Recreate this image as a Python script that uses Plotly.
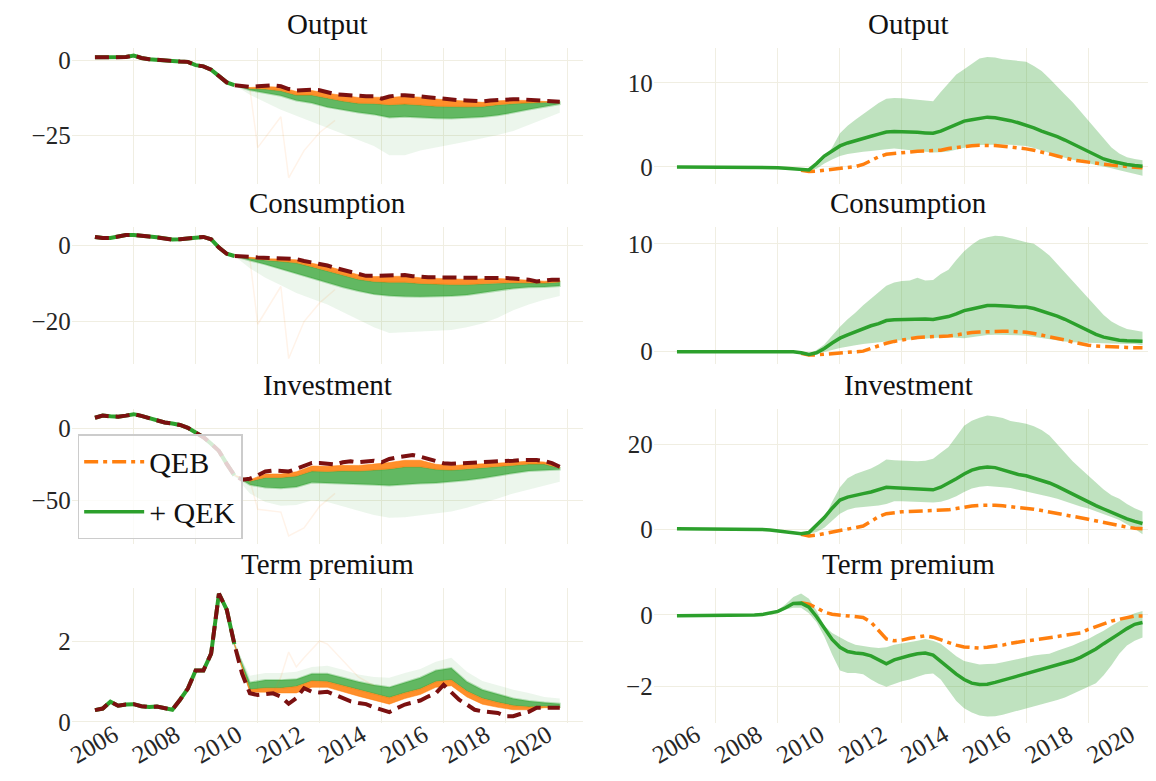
import pandas as pd
import plotly.graph_objects as go

# ---------------- data ----------------
quarters = pd.date_range("2004-10-01", periods=61, freq="QS")          # 2004Q4 .. 2019Q4
band_halfyears = pd.date_range("2009-04-01", periods=22, freq="6MS")   # left-panel spaghetti envelopes
tick_years = ["2006", "2008", "2010", "2012", "2014", "2016", "2018", "2020"]
panel_titles = ["Output", "Consumption", "Investment", "Term premium"]

# ----- left column: actual data (dashed) -----
output_actual = [0.9, 0.85, 0.85, 1.0, 1.0, 1.5, 0.7, 0.3, 0.2, -0.1, -0.3, -0.5, -0.6,
                 -1.7, -2.1, -3.2, -5.2, -7.4, -8.3, -8.7, -8.9, -8.7, -8.5, -8.4, -8.7,
                 -9.6, -10.1, -9.9, -9.8, -10.0, -10.7, -11.3, -11.5, -11.7, -12.1, -12.0, -12.0,
                 -12.8, -12.1, -11.7, -11.7, -11.7, -12.0, -12.3, -12.6, -12.8, -13.0, -13.3, -13.4,
                 -13.6, -13.7, -13.4, -13.2, -13.0, -13.0, -13.0, -13.2, -13.3, -13.5, -13.6, -13.8]
cons_actual = [2.2, 1.9, 1.9, 2.4, 2.7, 2.7, 2.6, 2.3, 2.1, 1.8, 1.5, 1.6, 1.9,
               2.0, 2.2, 1.6, -0.6, -2.2, -2.8, -2.8, -3.0, -3.2, -3.3, -3.4, -3.4,
               -3.4, -3.6, -4.1, -4.5, -4.8, -5.3, -5.9, -6.4, -6.9, -7.5, -8.0, -8.0,
               -8.0, -8.0, -7.9, -7.8, -8.1, -8.3, -8.4, -8.4, -8.4, -8.5, -8.5, -8.6,
               -8.6, -8.5, -8.4, -8.4, -8.6, -8.7, -8.8, -9.0, -9.5, -9.2, -9.0, -9.0]
inv_actual = [7.5, 9.0, 8.5, 8.3, 9.0, 10.0, 8.8, 7.3, 5.5, 4.2, 3.5, 2.5, 0.5,
              -2.5, -6.0, -10.5, -15.5, -24.5, -32.5, -35.5, -34.8, -32.5, -29.8, -29.1, -29.8,
              -29.8, -28.0, -25.7, -23.9, -23.9, -24.5, -25.0, -23.4, -22.7, -23.4, -23.0, -22.3,
              -23.4, -21.1, -20.0, -19.5, -18.4, -19.5, -21.1, -23.0, -24.1, -24.5, -24.1, -23.6,
              -23.4, -23.2, -23.0, -22.7, -22.7, -22.3, -21.8, -21.6, -21.8, -22.5, -24.0, -26.5]
tp_actual = [0.29, 0.33, 0.50, 0.40, 0.43, 0.44, 0.39, 0.37, 0.38, 0.33, 0.30, 0.55, 0.83,
             1.28, 1.28, 1.70, 3.20, 2.80, 1.94, 1.20, 0.71, 0.67, 0.69, 0.71, 0.63,
             0.45, 0.59, 0.84, 0.75, 0.73, 0.75, 0.67, 0.59, 0.51, 0.47, 0.44, 0.36,
             0.30, 0.24, 0.34, 0.43, 0.48, 0.53, 0.63, 0.71, 0.92, 0.75, 0.55, 0.43,
             0.30, 0.26, 0.24, 0.22, 0.14, 0.14, 0.20, 0.25, 0.35, 0.35, 0.34, 0.35]

# ----- left column: simulated-path envelopes (half-yearly, from 2009Q2) -----
output_qeb_near = [-8.3, -9.1, -8.8, -9.0, -10.4, -10.1, -11.0, -11.8, -12.4, -12.3, -12.4,
                   -12.0, -12.3, -12.9, -13.3, -13.7, -14.0, -13.5, -13.3, -13.4, -13.6, -13.8]
output_qeb_far = [-8.3, -9.4, -9.6, -10.2, -11.6, -11.6, -12.6, -13.6, -14.3, -14.4, -14.8,
                  -14.6, -14.9, -15.3, -15.4, -15.5, -15.4, -14.8, -14.4, -14.1, -14.0, -14.0]
output_qek_core = [-8.3, -10.0, -10.8, -11.8, -13.4, -14.2, -15.6, -16.6, -17.4, -18.0, -19.0,
                   -18.8, -19.0, -19.3, -19.4, -19.2, -18.9, -18.3, -17.4, -16.4, -15.4, -14.6]
output_qek_tail = [-8.3, -11.5, -14.0, -16.5, -18.5, -20.5, -22.6, -24.5, -26.5, -28.5, -31.5,
                   -31.5, -30.0, -29.0, -28.0, -27.0, -26.0, -24.8, -23.5, -21.5, -19.5, -17.5]

cons_qeb_near = [-2.8, -3.1, -3.5, -3.6, -3.8, -4.7, -5.5, -6.6, -7.7, -8.2, -8.2,
                 -8.1, -8.5, -8.7, -8.8, -8.9, -8.8, -8.7, -8.9, -9.2, -9.4, -9.2]
cons_qeb_far = [-2.8, -3.4, -3.9, -4.2, -4.6, -5.6, -6.6, -7.8, -8.9, -9.5, -9.7,
                -9.7, -10.0, -10.2, -10.3, -10.3, -10.1, -9.9, -9.8, -9.8, -9.9, -9.6]
cons_qek_core = [-2.8, -4.0, -5.0, -6.0, -7.2, -8.4, -9.8, -11.0, -12.0, -12.8, -13.2,
                 -13.4, -13.5, -13.4, -13.3, -13.0, -12.5, -11.9, -11.3, -11.0, -10.9, -10.7]
cons_qek_tail = [-2.8, -6.0, -8.5, -10.5, -12.5, -14.0, -15.5, -17.5, -19.5, -21.5, -23.0,
                 -22.8, -22.6, -22.4, -22.2, -21.5, -20.5, -19.0, -17.0, -15.5, -14.3, -13.3]

inv_qeb_near = [-32.5, -35.5, -31.5, -31.5, -30.0, -26.0, -26.2, -25.5, -25.6, -24.6, -23.6,
                -22.0, -22.0, -24.8, -25.8, -25.0, -24.6, -24.0, -23.4, -22.6, -23.2, -26.7]
inv_qeb_far = [-32.5, -36.5, -34.0, -34.0, -33.0, -29.5, -29.8, -29.3, -29.5, -28.8, -28.0,
               -26.5, -26.5, -28.3, -28.8, -28.0, -27.2, -26.4, -25.5, -24.6, -24.6, -27.3]
inv_qek_core = [-32.5, -39.0, -41.0, -41.5, -40.5, -37.5, -37.5, -38.0, -38.5, -39.0, -39.5,
                -38.8, -38.2, -37.8, -37.0, -35.8, -34.5, -32.8, -31.0, -29.5, -28.8, -28.5]
inv_qek_tail = [-32.5, -45.0, -51.0, -53.5, -53.0, -50.0, -51.0, -54.0, -57.0, -60.0, -62.0,
                -61.5, -60.5, -59.0, -57.5, -55.0, -52.0, -48.5, -45.0, -42.0, -39.5, -37.0]

tp_qeb_near = [1.94, 0.74, 0.74, 0.72, 0.72, 0.86, 0.86, 0.74, 0.64, 0.54, 0.44,
               0.58, 0.68, 0.86, 0.90, 0.62, 0.44, 0.36, 0.30, 0.30, 0.35, 0.35]
tp_qeb_far = [1.94, 0.80, 0.84, 0.84, 0.88, 1.02, 1.00, 0.90, 0.80, 0.70, 0.60,
              0.72, 0.82, 1.00, 1.04, 0.76, 0.58, 0.48, 0.40, 0.37, 0.38, 0.37]
tp_qek_core = [1.94, 0.98, 1.04, 1.04, 1.06, 1.20, 1.20, 1.10, 1.00, 0.92, 0.86,
               0.98, 1.10, 1.28, 1.34, 1.00, 0.80, 0.68, 0.58, 0.52, 0.48, 0.45]
tp_qek_tail = [1.94, 1.15, 1.22, 1.22, 1.25, 1.37, 1.40, 1.30, 1.18, 1.12, 1.10,
               1.22, 1.32, 1.50, 1.60, 1.25, 1.02, 0.90, 0.80, 0.72, 0.62, 0.58]

# faint outlier QEB paths
outlier_dates = ["2009-10-01", "2010-01-01", "2010-10-01", "2011-01-01", "2011-07-01", "2012-01-01", "2012-07-01"]
output_outlier = [-9.5, -29.0, -18.8, -39.0, -30.0, -24.0, -20.0]
cons_outlier = [-3.5, -20.7, -10.8, -29.7, -20.0, -15.1, -11.6]
inv_outlier = [-36.0, -56.0, -58.0, -74.5, -69.0, -54.0, -45.0]
tp_outlier_dates = ["2010-07-01", "2010-10-01", "2011-01-01", "2011-04-01", "2011-07-01",
                    "2012-01-01", "2012-04-01", "2012-10-01", "2013-04-01", "2013-10-01"]
tp_outlier = [0.71, 1.12, 1.74, 1.37, 1.6, 2.02, 1.94, 1.53, 1.12, 0.9]

# ----- right column: differences (QEB dash-dot from 2008Q4, QEK median + band) -----
output_qek = [0.0, 0.0, 0.0, 0.0, 0.0, 0.0, 0.0, 0.0, -0.02, -0.02, -0.03, -0.05, -0.05,
              -0.08, -0.15, -0.25, -0.35, -0.35, 0.4, 1.3, 1.9, 2.5, 2.85, 3.15, 3.4,
              3.65, 3.9, 4.15, 4.2, 4.2, 4.18, 4.12, 4.05, 4.0, 4.25, 4.65, 5.0,
              5.45, 5.6, 5.8, 5.92, 5.85, 5.72, 5.5, 5.25, 5.0, 4.65, 4.27, 3.95,
              3.6, 3.2, 2.75, 2.25, 1.75, 1.3, 0.95, 0.68, 0.45, 0.3, 0.18, 0.08]
output_qeb = [-0.4, -0.55, -0.5, -0.38, -0.25, -0.1, 0.0, 0.05, 0.3, 0.8, 1.2, 1.5, 1.62, 1.72,
              1.8, 1.88, 1.9, 1.9, 2.0, 2.2, 2.32, 2.42, 2.52, 2.57, 2.6, 2.55, 2.47, 2.38,
              2.28, 2.15, 1.98, 1.79, 1.55, 1.3, 1.05, 0.85, 0.7, 0.55, 0.42, 0.33, 0.22,
              0.12, 0.02, -0.05, -0.1]
output_hi = [-0.35, 0.1, 1.0, 2.3, 4.0, 4.9, 5.6, 6.3, 7.0, 7.6, 8.1, 8.2, 8.15, 8.05, 7.95,
             7.9, 7.8, 8.9, 10.0, 11.0, 11.6, 12.3, 12.9, 13.05, 13.0, 12.8, 12.7, 12.6, 12.5,
             12.0, 11.4, 10.5, 9.5, 8.6, 7.7, 6.6, 5.5, 4.5, 3.3, 2.3, 1.6, 1.15, 0.95, 0.8]
output_lo = [-0.45, -0.2, 0.4, 0.9, 1.3, 1.55, 1.7, 1.8, 1.9, 1.97, 2.1, 2.2, 2.1, 2.0, 1.9,
             1.8, 1.72, 1.75, 1.85, 2.0, 2.25, 2.48, 2.6, 2.67, 2.67, 2.67, 2.65, 2.58, 2.48,
             2.25, 2.0, 1.7, 1.4, 1.1, 0.85, 0.6, 0.4, 0.25, 0.05, -0.15, -0.4, -0.6, -0.85, -1.05]

cons_qek = [0.0, 0.0, 0.0, 0.0, 0.0, 0.0, 0.0, 0.0, 0.0, 0.0, 0.0, 0.0, 0.0,
            0.0, 0.0, 0.0, -0.1, -0.25, -0.1, 0.3, 0.8, 1.25, 1.55, 1.85, 2.1,
            2.4, 2.6, 2.88, 2.95, 2.98, 3.0, 3.04, 3.02, 2.98, 3.1, 3.25, 3.5,
            3.8, 3.95, 4.15, 4.28, 4.28, 4.27, 4.2, 4.13, 4.13, 4.0, 3.78, 3.55,
            3.3, 3.0, 2.65, 2.25, 1.9, 1.6, 1.35, 1.18, 1.05, 1.0, 0.97, 0.96]
cons_qeb = [-0.15, -0.3, -0.3, -0.25, -0.18, -0.1, -0.08, -0.08, 0.05, 0.3, 0.55, 0.78, 0.95,
            1.1, 1.25, 1.32, 1.36, 1.38, 1.41, 1.45, 1.55, 1.7, 1.78, 1.83, 1.87, 1.88, 1.88,
            1.88, 1.87, 1.8, 1.68, 1.55, 1.4, 1.27, 1.08, 0.88, 0.72, 0.6, 0.52, 0.47, 0.43,
            0.41, 0.39, 0.37, 0.36]
cons_hi = [-0.25, 0.15, 0.66, 1.5, 2.3, 3.0, 3.6, 4.3, 4.9, 5.5, 6.1, 6.4, 6.55, 6.6, 6.85,
           6.6, 6.65, 7.2, 7.6, 8.5, 9.3, 9.9, 10.4, 10.6, 10.75, 10.7, 10.5, 10.3, 10.15,
           10.0, 9.5, 8.9, 8.1, 7.4, 6.6, 5.8, 5.0, 4.2, 3.4, 2.8, 2.4, 2.1, 1.95, 1.85]
cons_lo = [-0.3, -0.2, -0.05, 0.15, 0.35, 0.5, 0.6, 0.7, 0.8, 0.88, 0.95, 1.02, 1.1, 1.15,
           1.2, 1.25, 1.28, 1.32, 1.35, 1.3, 1.25, 1.35, 1.45, 1.55, 1.57, 1.57, 1.55, 1.52,
           1.48, 1.4, 1.3, 1.2, 1.05, 0.95, 0.87, 0.82, 0.8, 0.8, 0.78, 0.76, 0.74, 0.72, 0.7, 0.6]

inv_qek = [0.2, 0.2, 0.15, 0.1, 0.1, 0.05, 0.0, 0.0, 0.0, 0.0, 0.0, 0.0, -0.1,
           -0.3, -0.6, -0.9, -1.0, -0.7, 1.0, 2.8, 5.0, 6.9, 7.6, 8.1, 8.4,
           8.8, 9.3, 9.9, 9.8, 9.7, 9.5, 9.4, 9.3, 9.3, 9.9, 10.8, 11.9,
           13.0, 13.9, 14.4, 14.66, 14.5, 14.0, 13.3, 12.9, 12.6, 12.1, 11.6, 10.9,
           10.1, 9.2, 8.3, 7.3, 6.4, 5.6, 4.8, 4.0, 3.2, 2.5, 1.9, 1.4]
inv_qeb = [-1.1, -1.5, -1.3, -0.95, -0.5, -0.15, 0.15, 0.45, 0.8, 1.9, 3.0, 3.7, 4.0, 4.15,
           4.22, 4.28, 4.35, 4.42, 4.5, 4.6, 4.9, 5.3, 5.5, 5.65, 5.75, 5.7, 5.55, 5.4, 5.2,
           5.0, 4.75, 4.45, 4.15, 3.8, 3.45, 3.1, 2.75, 2.4, 2.0, 1.6, 1.2, 0.85, 0.55, 0.3, 0.15]
inv_hi = [-0.9, 0.5, 2.6, 6.5, 9.9, 12.0, 13.0, 13.7, 14.3, 15.2, 16.4, 16.2, 16.1, 16.0,
          16.0, 16.1, 16.6, 18.0, 19.3, 21.8, 24.3, 25.5, 26.2, 26.7, 26.5, 26.1, 25.4, 25.1,
          24.8, 24.2, 23.3, 22.0, 20.0, 18.0, 16.0, 14.3, 12.6, 11.0, 9.4, 8.0, 7.2, 6.0, 5.0, 4.2]
inv_lo = [-1.0, -0.6, 0.4, 2.0, 3.7, 4.6, 5.1, 5.3, 5.5, 5.6, 6.0, 6.6, 6.6, 6.55, 6.5,
          6.4, 6.3, 6.5, 7.0, 7.8, 8.8, 9.6, 10.0, 10.2, 10.1, 9.9, 9.7, 9.3, 8.8, 8.5,
          8.1, 7.7, 7.2, 6.7, 6.0, 5.4, 4.9, 4.3, 3.6, 2.9, 2.2, 1.3, 0.2, -1.1]

tp_qek = [-0.02, -0.02, -0.01, 0.0, 0.0, 0.0, 0.0, 0.0, 0.0, 0.0, 0.0, 0.01, 0.05,
          0.1, 0.2, 0.32, 0.33, 0.22, -0.05, -0.35, -0.68, -0.9, -1.02, -1.06, -1.08,
          -1.14, -1.25, -1.36, -1.25, -1.18, -1.13, -1.08, -1.06, -1.12, -1.3, -1.48, -1.65,
          -1.8, -1.9, -1.94, -1.93, -1.88, -1.82, -1.75, -1.7, -1.63, -1.57, -1.5, -1.44,
          -1.38, -1.33, -1.27, -1.18, -1.07, -0.95, -0.8, -0.67, -0.52, -0.38, -0.26, -0.21]
tp_qeb = [0.34, 0.3, 0.2, 0.08, 0.02, 0.0, -0.02, -0.04, -0.07, -0.2, -0.45, -0.67, -0.72,
          -0.7, -0.65, -0.62, -0.58, -0.62, -0.7, -0.78, -0.84, -0.89, -0.91, -0.92, -0.9,
          -0.88, -0.84, -0.79, -0.75, -0.72, -0.7, -0.67, -0.64, -0.61, -0.58, -0.54, -0.5,
          -0.4, -0.32, -0.24, -0.17, -0.12, -0.07, -0.03, -0.03]
tp_hi = [0.05, 0.13, 0.3, 0.5, 0.6, 0.45, 0.12, -0.3, -0.5, -0.62, -0.74, -0.83, -0.87, -0.9,
         -0.92, -0.9, -0.83, -0.8, -0.76, -0.72, -0.67, -0.72, -0.8, -0.98, -1.15, -1.28,
         -1.34, -1.38, -1.37, -1.36, -1.32, -1.27, -1.22, -1.17, -1.13, -1.1, -1.08, -1.0,
         -0.93, -0.85, -0.75, -0.67, -0.55, -0.44, -0.3, -0.17, -0.05, 0.05, 0.11]
tp_lo = [0.0, 0.05, 0.15, 0.2, 0.2, 0.05, -0.2, -0.6, -1.1, -1.55, -1.62, -1.62, -1.65, -1.8,
         -1.92, -2.0, -1.92, -1.85, -1.8, -1.72, -1.65, -1.63, -1.8, -2.1, -2.4, -2.6,
         -2.72, -2.8, -2.83, -2.82, -2.78, -2.73, -2.68, -2.6, -2.55, -2.5, -2.43, -2.37,
         -2.3, -2.2, -2.1, -2.0, -1.9, -1.68, -1.4, -1.08, -0.85, -0.72, -0.63]

# ---------------- styling ----------------
GREEN = "#2ca02c"
ORANGE = "#ff7f0e"
DARKRED = "#7b1010"
GRID = "#f0eee2"
FONT = "Liberation Serif"

left_panels = [
    (output_actual, output_qeb_near, output_qeb_far, output_qek_core, output_qek_tail, outlier_dates, output_outlier),
    (cons_actual, cons_qeb_near, cons_qeb_far, cons_qek_core, cons_qek_tail, outlier_dates, cons_outlier),
    (inv_actual, inv_qeb_near, inv_qeb_far, inv_qek_core, inv_qek_tail, outlier_dates, inv_outlier),
    (tp_actual, tp_qeb_near, tp_qeb_far, tp_qek_core, tp_qek_tail, tp_outlier_dates, tp_outlier),
]
right_panels = [
    (output_qek, output_qeb, output_hi, output_lo, 17),
    (cons_qek, cons_qeb, cons_hi, cons_lo, 17),
    (inv_qek, inv_qeb, inv_hi, inv_lo, 17),
    (tp_qek, tp_qeb, tp_hi, tp_lo, 12),
]
QEB_START = 16  # 2008Q4

left_yrange = [[-41.0, 3.9], [-31.0, 4.8], [-80.3, 13.8], [-0.03, 3.33]]
left_yticks = [[0, -25], [0, -20], [0, -50], [0, 2]]
right_yrange = [[-2.0, 14.1], [-1.1, 11.55], [-3.45, 28.3], [-3.01, 0.74]]
right_yticks = [[0, 10], [0, 10], [0, 20], [-2, 0]]

row_px = [(40, 178), (222, 361), (407, 545), (590, 727)]
H, W = 781, 1156
left_dom = [58 / W, 572 / W]
right_dom = [643 / W, 1.0]


def fmt(v):
    s = f"{v:g}"
    return s.replace("-", "\u2212")


def polygon(x_top, y_top, x_bot, y_bot):
    return list(x_top) + list(x_bot)[::-1], list(y_top) + list(y_bot)[::-1]


fig = go.Figure()


def axname(i):
    return ("x" if i == 1 else f"x{i}"), ("y" if i == 1 else f"y{i}")


for r in range(4):
    # ---------- left panel ----------
    ai = 2 * r + 1
    xa, ya = axname(ai)
    actual, qeb_near, qeb_far, qek_core, qek_tail, od, ov = left_panels[r]
    hx = list(band_halfyears)
    px_, py_ = polygon(hx, qeb_far, hx, qek_tail)
    fig.add_trace(go.Scatter(x=px_, y=py_, fill="toself", fillcolor="rgba(44,160,44,0.09)",
                             line=dict(width=0), mode="lines", showlegend=False, hoverinfo="skip",
                             xaxis=xa, yaxis=ya))
    px_, py_ = polygon(hx, qeb_far, hx, qek_core)
    fig.add_trace(go.Scatter(x=px_, y=py_, fill="toself", fillcolor="rgba(44,160,44,0.72)",
                             line=dict(width=2, color="rgba(44,160,44,0.3)"), mode="lines",
                             showlegend=False, hoverinfo="skip", xaxis=xa, yaxis=ya))
    px_, py_ = polygon(hx, qeb_near, hx, qeb_far)
    fig.add_trace(go.Scatter(x=px_, y=py_, fill="toself", fillcolor="rgba(255,127,14,0.88)",
                             line=dict(width=1, color="rgba(255,127,14,0.5)"), mode="lines",
                             showlegend=False, hoverinfo="skip", xaxis=xa, yaxis=ya))
    fig.add_trace(go.Scatter(x=od, y=ov, mode="lines", line=dict(color="rgba(255,127,14,0.09)", width=1.5),
                             showlegend=False, hoverinfo="skip", xaxis=xa, yaxis=ya))
    fig.add_trace(go.Scatter(x=list(quarters[:19]), y=actual[:19], mode="lines",
                             line=dict(color=GREEN, width=4), showlegend=False, xaxis=xa, yaxis=ya))
    fig.add_trace(go.Scatter(x=list(quarters), y=actual, mode="lines",
                             line=dict(color=DARKRED, width=4, dash="14px,7px"),
                             showlegend=False, xaxis=xa, yaxis=ya))

    # ---------- right panel ----------
    bi = 2 * r + 2
    xb, yb = axname(bi)
    qek, qeb, hi, lo, s = right_panels[r]
    bx = list(quarters[s:])
    px_, py_ = polygon(bx, hi, bx, lo)
    fig.add_trace(go.Scatter(x=px_, y=py_, fill="toself", fillcolor="rgba(44,160,44,0.30)",
                             line=dict(width=0), mode="lines", showlegend=False, hoverinfo="skip",
                             xaxis=xb, yaxis=yb))
    fig.add_trace(go.Scatter(x=list(quarters[QEB_START:]), y=qeb, mode="lines", name="QEB",
                             line=dict(color=ORANGE, width=3.5, dash="14px,5px,4px,5px"),
                             showlegend=(r == 0), legendgroup="qeb", xaxis=xb, yaxis=yb))
    fig.add_trace(go.Scatter(x=list(quarters), y=qek, mode="lines", name="+ QEK",
                             line=dict(color=GREEN, width=3.5),
                             showlegend=(r == 0), legendgroup="qek", xaxis=xb, yaxis=yb))

# ---------------- axes ----------------
tickvals_x = [f"{y}-01-01" for y in tick_years]
layout = {}
for r in range(4):
    top, bot = row_px[r]
    ydom = [1 - bot / H, 1 - top / H]
    for c in range(2):
        i = 2 * r + 1 + c
        xkey = "xaxis" if i == 1 else f"xaxis{i}"
        ykey = "yaxis" if i == 1 else f"yaxis{i}"
        xa, ya = axname(i)
        layout[xkey] = dict(
            domain=left_dom if c == 0 else right_dom, anchor=ya, type="date",
            range=["2004-01-01", "2020-07-01"] if c == 0 else ["2004-01-01", "2020-06-10"],
            tickvals=tickvals_x, ticktext=tick_years, showticklabels=(r == 3), tickangle=-30,
            ticklabelshift=-20, ticklabelstandoff=-8,
            tickfont=dict(family=FONT, size=25, color="#262626"),
            showgrid=True, gridcolor=GRID, gridwidth=1.3, zeroline=False, showline=False, ticks="",
        )
        yr = left_yrange[r] if c == 0 else right_yrange[r]
        yt = left_yticks[r] if c == 0 else right_yticks[r]
        layout[ykey] = dict(
            domain=ydom, anchor=xa, range=yr, tickvals=yt, ticktext=[fmt(v) for v in yt],
            tickfont=dict(family=FONT, size=25, color="#262626"),
            showgrid=True, gridcolor=GRID, gridwidth=1.3, zeroline=False, showline=False, ticks="",
        )

annotations = []
for r in range(4):
    top, _ = row_px[r]
    for c in range(2):
        dom = left_dom if c == 0 else right_dom
        annotations.append(dict(
            text=panel_titles[r], x=(dom[0] + dom[1]) / 2, y=1 - top / H, xref="paper", yref="paper",
            xanchor="center", yanchor="bottom", yshift=6, showarrow=False,
            font=dict(family=FONT, size=29, color="#111111"),
        ))

fig.update_layout(
    width=W, height=H, autosize=False, margin=dict(l=0, r=0, t=0, b=0),
    plot_bgcolor="white", paper_bgcolor="white",
    font=dict(family=FONT, color="#222222"),
    annotations=annotations,
    legend=dict(x=64 / W, y=1 - 433 / H, xanchor="left", yanchor="top",
                bgcolor="rgba(255,255,255,0.8)", bordercolor="#cccccc", borderwidth=1.5,
                font=dict(family=FONT, size=30, color="#111111"), tracegroupgap=8,
                itemwidth=60),
    **layout,
)

fig.write_html("out.html")
